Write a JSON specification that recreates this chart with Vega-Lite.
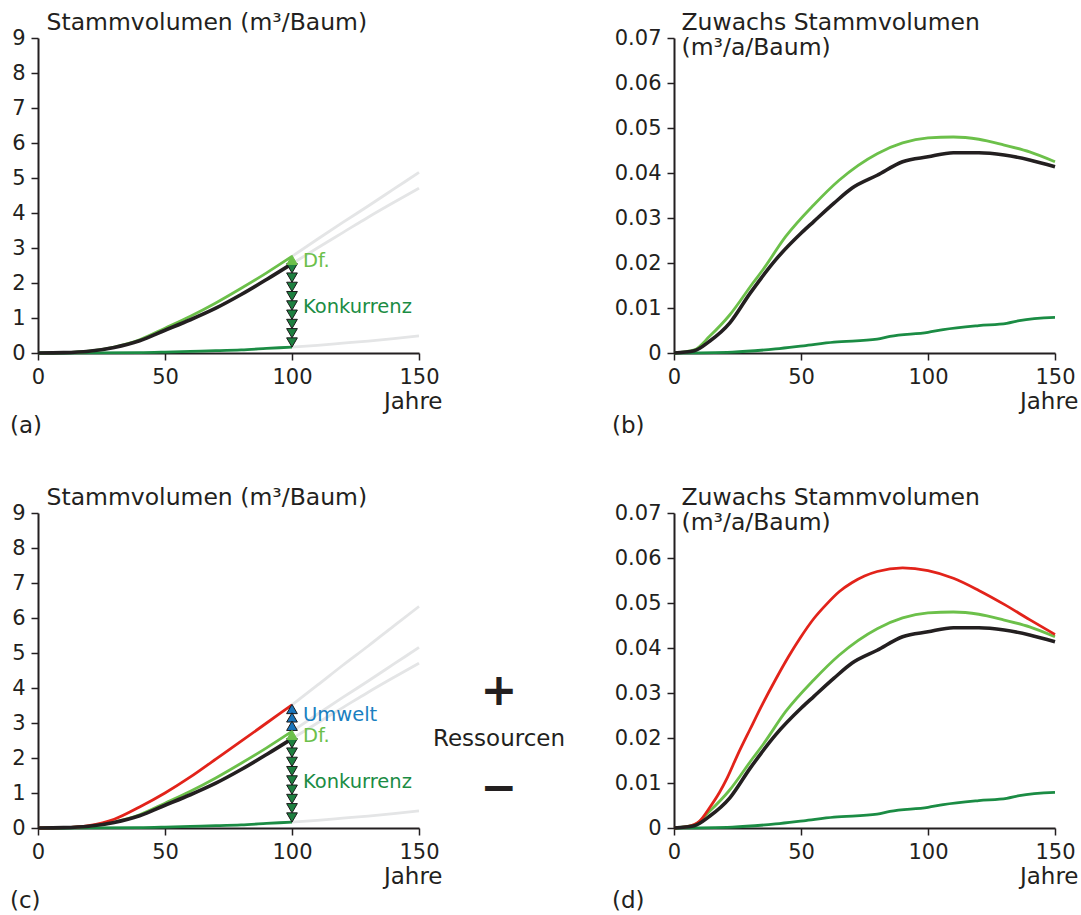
{
  "$schema": "https://vega.github.io/schema/vega-lite/v6.json",
  "autosize": {"type": "pad"},
  "padding": {"left": 10, "top": 10, "right": 0, "bottom": 0},
  "background": "white",
  "columns": 2,
  "spacing": {"row": 160, "column": 255},
  "bounds": "flush",
  "config": {
    "view": {"stroke": null},
    "font": "DejaVu Sans",
    "line": {"interpolate": "monotone"},
    "axis": {
      "grid": false,
      "domainColor": "#231f20",
      "domainWidth": 2,
      "tickColor": "#231f20",
      "tickWidth": 1.5,
      "tickSize": 7,
      "labelFont": "DejaVu Sans",
      "labelFontSize": 21,
      "labelColor": "#231f20",
      "labelPadding": 6,
      "labelFlush": false,
      "labelOverlap": false,
      "titleFont": "DejaVu Sans",
      "titleFontWeight": "normal",
      "titleColor": "#231f20"
    },
    "title": {"font": "DejaVu Sans", "fontSize": 23, "fontWeight": "normal", "color": "#231f20"}
  },
  "datasets": {
    "vol": [
      {"s": "black", "x": 0, "y": 0}, {"s": "black", "x": 10, "y": 0.01}, {"s": "black", "x": 20, "y": 0.05}, {"s": "black", "x": 30, "y": 0.16}, {"s": "black", "x": 40, "y": 0.35}, {"s": "black", "x": 50, "y": 0.65}, {"s": "black", "x": 60, "y": 0.95}, {"s": "black", "x": 70, "y": 1.28}, {"s": "black", "x": 80, "y": 1.67}, {"s": "black", "x": 90, "y": 2.1}, {"s": "black", "x": 100, "y": 2.55},
      {"s": "df", "x": 0, "y": 0}, {"s": "df", "x": 10, "y": 0.01}, {"s": "df", "x": 20, "y": 0.05}, {"s": "df", "x": 30, "y": 0.17}, {"s": "df", "x": 40, "y": 0.38}, {"s": "df", "x": 50, "y": 0.71}, {"s": "df", "x": 60, "y": 1.05}, {"s": "df", "x": 70, "y": 1.43}, {"s": "df", "x": 80, "y": 1.85}, {"s": "df", "x": 90, "y": 2.29}, {"s": "df", "x": 100, "y": 2.76},
      {"s": "konk", "x": 0, "y": 0}, {"s": "konk", "x": 20, "y": 0.002}, {"s": "konk", "x": 40, "y": 0.01}, {"s": "konk", "x": 50, "y": 0.025}, {"s": "konk", "x": 60, "y": 0.045}, {"s": "konk", "x": 70, "y": 0.065}, {"s": "konk", "x": 80, "y": 0.09}, {"s": "konk", "x": 90, "y": 0.13}, {"s": "konk", "x": 100, "y": 0.17},
      {"s": "red", "x": 0, "y": 0}, {"s": "red", "x": 10, "y": 0.01}, {"s": "red", "x": 20, "y": 0.07}, {"s": "red", "x": 30, "y": 0.25}, {"s": "red", "x": 40, "y": 0.6}, {"s": "red", "x": 50, "y": 1.0}, {"s": "red", "x": 60, "y": 1.46}, {"s": "red", "x": 70, "y": 1.97}, {"s": "red", "x": 80, "y": 2.48}, {"s": "red", "x": 90, "y": 3.0}, {"s": "red", "x": 100, "y": 3.52},
      {"s": "g1", "x": 100, "y": 2.76}, {"s": "g1", "x": 110, "y": 3.25}, {"s": "g1", "x": 120, "y": 3.73}, {"s": "g1", "x": 130, "y": 4.2}, {"s": "g1", "x": 140, "y": 4.68}, {"s": "g1", "x": 150, "y": 5.16},
      {"s": "g2", "x": 100, "y": 2.55}, {"s": "g2", "x": 110, "y": 3.0}, {"s": "g2", "x": 120, "y": 3.44}, {"s": "g2", "x": 130, "y": 3.88}, {"s": "g2", "x": 140, "y": 4.3}, {"s": "g2", "x": 150, "y": 4.71},
      {"s": "g3", "x": 100, "y": 0.17}, {"s": "g3", "x": 110, "y": 0.22}, {"s": "g3", "x": 120, "y": 0.28}, {"s": "g3", "x": 130, "y": 0.34}, {"s": "g3", "x": 140, "y": 0.41}, {"s": "g3", "x": 150, "y": 0.49},
      {"s": "g4", "x": 100, "y": 3.52}, {"s": "g4", "x": 110, "y": 4.08}, {"s": "g4", "x": 120, "y": 4.65}, {"s": "g4", "x": 130, "y": 5.2}, {"s": "g4", "x": 140, "y": 5.77}, {"s": "g4", "x": 150, "y": 6.33},
      {"s": "down", "x": 100, "y": 2.42}, {"s": "down", "x": 100, "y": 2.155}, {"s": "down", "x": 100, "y": 1.89}, {"s": "down", "x": 100, "y": 1.625}, {"s": "down", "x": 100, "y": 1.36}, {"s": "down", "x": 100, "y": 1.095}, {"s": "down", "x": 100, "y": 0.83}, {"s": "down", "x": 100, "y": 0.565}, {"s": "down", "x": 100, "y": 0.3},
      {"s": "dfup", "x": 100, "y": 2.66},
      {"s": "up", "x": 100, "y": 3.4}, {"s": "up", "x": 100, "y": 3.16}, {"s": "up", "x": 100, "y": 2.92},
      {"s": "lab", "c": "df", "t": "Df.", "x": 104.3, "y": 2.63},
      {"s": "lab", "c": "konk", "t": "Konkurrenz", "x": 104.3, "y": 1.31},
      {"s": "lab", "c": "umw", "t": "Umwelt", "x": 104.3, "y": 3.23},
      {"s": "res", "t": "Ressourcen", "x": 181.5, "y": 2.54},
      {"s": "pm", "t": "+", "x": 181.5, "y": 3.89},
      {"s": "pm", "t": "−", "x": 181.5, "y": 1.11}
    ],
    "zuw": [
      {"s": "black", "x": 0, "y": 0}, {"s": "black", "x": 8, "y": 0.0005}, {"s": "black", "x": 14, "y": 0.0026}, {"s": "black", "x": 22, "y": 0.0067}, {"s": "black", "x": 30, "y": 0.0133}, {"s": "black", "x": 40, "y": 0.0207}, {"s": "black", "x": 50, "y": 0.0266}, {"s": "black", "x": 55, "y": 0.0292}, {"s": "black", "x": 63, "y": 0.0333}, {"s": "black", "x": 70, "y": 0.0366}, {"s": "black", "x": 80, "y": 0.0395}, {"s": "black", "x": 90, "y": 0.0425}, {"s": "black", "x": 100, "y": 0.0436}, {"s": "black", "x": 110, "y": 0.0445}, {"s": "black", "x": 120, "y": 0.0445}, {"s": "black", "x": 130, "y": 0.044}, {"s": "black", "x": 140, "y": 0.0429}, {"s": "black", "x": 150, "y": 0.0414},
      {"s": "df", "x": 0, "y": 0}, {"s": "df", "x": 8, "y": 0.0007}, {"s": "df", "x": 14, "y": 0.0037}, {"s": "df", "x": 22, "y": 0.0085}, {"s": "df", "x": 31, "y": 0.0155}, {"s": "df", "x": 35, "y": 0.0185}, {"s": "df", "x": 44, "y": 0.0259}, {"s": "df", "x": 55, "y": 0.0329}, {"s": "df", "x": 65, "y": 0.0384}, {"s": "df", "x": 80, "y": 0.0443}, {"s": "df", "x": 90, "y": 0.0467}, {"s": "df", "x": 100, "y": 0.0478}, {"s": "df", "x": 110, "y": 0.048}, {"s": "df", "x": 120, "y": 0.0475}, {"s": "df", "x": 130, "y": 0.0462}, {"s": "df", "x": 140, "y": 0.0447}, {"s": "df", "x": 150, "y": 0.0425},
      {"s": "konk", "x": 0, "y": 0}, {"s": "konk", "x": 23, "y": 0.0002}, {"s": "konk", "x": 40, "y": 0.0009}, {"s": "konk", "x": 51, "y": 0.0016}, {"s": "konk", "x": 63, "y": 0.0024}, {"s": "konk", "x": 80, "y": 0.0031}, {"s": "konk", "x": 85, "y": 0.0037}, {"s": "konk", "x": 100, "y": 0.0046}, {"s": "konk", "x": 106, "y": 0.0052}, {"s": "konk", "x": 120, "y": 0.0061}, {"s": "konk", "x": 131, "y": 0.0066}, {"s": "konk", "x": 136, "y": 0.0072}, {"s": "konk", "x": 150, "y": 0.0079},
      {"s": "red", "x": 0, "y": 0}, {"s": "red", "x": 5, "y": 0.0003}, {"s": "red", "x": 8, "y": 0.0008}, {"s": "red", "x": 10, "y": 0.0015}, {"s": "red", "x": 14, "y": 0.0045}, {"s": "red", "x": 18, "y": 0.008}, {"s": "red", "x": 21, "y": 0.0112}, {"s": "red", "x": 25, "y": 0.0162}, {"s": "red", "x": 30, "y": 0.022}, {"s": "red", "x": 35, "y": 0.0277}, {"s": "red", "x": 40, "y": 0.033}, {"s": "red", "x": 45, "y": 0.038}, {"s": "red", "x": 50, "y": 0.0425}, {"s": "red", "x": 55, "y": 0.0465}, {"s": "red", "x": 60, "y": 0.0497}, {"s": "red", "x": 65, "y": 0.0525}, {"s": "red", "x": 70, "y": 0.0545}, {"s": "red", "x": 75, "y": 0.056}, {"s": "red", "x": 80, "y": 0.057}, {"s": "red", "x": 90, "y": 0.0578}, {"s": "red", "x": 100, "y": 0.0572}, {"s": "red", "x": 110, "y": 0.0555}, {"s": "red", "x": 120, "y": 0.0528}, {"s": "red", "x": 130, "y": 0.0497}, {"s": "red", "x": 140, "y": 0.0463}, {"s": "red", "x": 150, "y": 0.043}
    ]
  },
  "concat": [
    {
      "width": 381, "height": 315,
      "data": {"name": "vol"},
      "title": {"text": "(a)", "orient": "bottom", "anchor": "start", "frame": "group", "dx": -28, "offset": 2},
      "encoding": {
        "x": {"field": "x", "type": "quantitative", "scale": {"domain": [0, 150], "nice": false},
              "axis": {"values": [0, 50, 100, 150], "title": "Jahre", "titleFontSize": 23, "titleX": 404, "titleY": 55, "titleAlign": "right", "titleBaseline": "alphabetic"}},
        "y": {"field": "y", "type": "quantitative", "scale": {"domain": [0, 9], "nice": false},
              "axis": {"values": [0, 1, 2, 3, 4, 5, 6, 7, 8, 9], "title": "Stammvolumen (m³/Baum)", "titleFontSize": 23.5, "titleAngle": 0, "titleX": 8, "titleY": -9, "titleAlign": "left", "titleBaseline": "alphabetic"}}
      },
      "layer": [
        {"transform": [{"filter": "datum.s === 'g1' || datum.s === 'g2' || datum.s === 'g3'"}], "mark": {"type": "line", "color": "#e4e5e6", "strokeWidth": 2.8}, "encoding": {"detail": {"field": "s"}}},
        {"transform": [{"filter": "datum.s === 'konk'"}], "mark": {"type": "line", "color": "#1b8c44", "strokeWidth": 2.8}, "encoding": {}},
        {"transform": [{"filter": "datum.s === 'df'"}], "mark": {"type": "line", "color": "#6cc04a", "strokeWidth": 2.8}, "encoding": {}},
        {"transform": [{"filter": "datum.s === 'black'"}], "mark": {"type": "line", "color": "#231f20", "strokeWidth": 3.6}, "encoding": {}},
        {"transform": [{"filter": "datum.s === 'down'"}], "mark": {"type": "point", "shape": "triangle-down", "filled": true, "fill": "#1e8040", "stroke": "#1a1a1a", "strokeWidth": 1, "size": 115, "opacity": 1}},
        {"transform": [{"filter": "datum.s === 'dfup'"}], "mark": {"type": "point", "shape": "triangle-up", "filled": true, "fill": "#6cc04a", "stroke": "#6cc04a", "strokeWidth": 1, "size": 110, "opacity": 1}},
        {"transform": [{"filter": "datum.s === 'lab' && datum.c !== 'umw'"}], "mark": {"type": "text", "align": "left", "baseline": "middle", "fontSize": 19.5},
         "encoding": {"text": {"field": "t"}, "color": {"field": "c", "type": "nominal", "scale": {"domain": ["df", "konk", "umw"], "range": ["#6cc04a", "#1b8c44", "#1a7fc1"]}, "legend": null}}}
      ]
    },
    {
      "width": 381, "height": 315,
      "data": {"name": "zuw"},
      "title": {"text": "(b)", "orient": "bottom", "anchor": "start", "frame": "group", "dx": -62, "offset": 2},
      "encoding": {
        "x": {"field": "x", "type": "quantitative", "scale": {"domain": [0, 150], "nice": false},
              "axis": {"values": [0, 50, 100, 150], "title": "Jahre", "titleFontSize": 23, "titleX": 404, "titleY": 55, "titleAlign": "right", "titleBaseline": "alphabetic"}},
        "y": {"field": "y", "type": "quantitative", "scale": {"domain": [0, 0.07], "nice": false},
              "axis": {"values": [0, 0.01, 0.02, 0.03, 0.04, 0.05, 0.06, 0.07], "format": "~g", "title": ["Zuwachs Stammvolumen", "(m³/a/Baum)"], "titleFontSize": 23.5, "titleLineHeight": 25, "titleAngle": 0, "titleX": 7, "titleY": -9, "titleAlign": "left", "titleBaseline": "alphabetic"}}
      },
      "layer": [
        {"transform": [{"filter": "datum.s === 'konk'"}], "mark": {"type": "line", "color": "#1b8c44", "strokeWidth": 2.8}, "encoding": {}},
        {"transform": [{"filter": "datum.s === 'df'"}], "mark": {"type": "line", "color": "#6cc04a", "strokeWidth": 2.8}, "encoding": {}},
        {"transform": [{"filter": "datum.s === 'black'"}], "mark": {"type": "line", "color": "#231f20", "strokeWidth": 3.6}, "encoding": {}}
      ]
    },
    {
      "width": 381, "height": 315,
      "data": {"name": "vol"},
      "title": {"text": "(c)", "orient": "bottom", "anchor": "start", "frame": "group", "dx": -28, "offset": 2},
      "encoding": {
        "x": {"field": "x", "type": "quantitative", "scale": {"domain": [0, 150], "nice": false},
              "axis": {"values": [0, 50, 100, 150], "title": "Jahre", "titleFontSize": 23, "titleX": 404, "titleY": 55, "titleAlign": "right", "titleBaseline": "alphabetic"}},
        "y": {"field": "y", "type": "quantitative", "scale": {"domain": [0, 9], "nice": false},
              "axis": {"values": [0, 1, 2, 3, 4, 5, 6, 7, 8, 9], "title": "Stammvolumen (m³/Baum)", "titleFontSize": 23.5, "titleAngle": 0, "titleX": 8, "titleY": -9, "titleAlign": "left", "titleBaseline": "alphabetic"}}
      },
      "layer": [
        {"transform": [{"filter": "datum.s === 'g1' || datum.s === 'g2' || datum.s === 'g3' || datum.s === 'g4'"}], "mark": {"type": "line", "color": "#e4e5e6", "strokeWidth": 2.8}, "encoding": {"detail": {"field": "s"}}},
        {"transform": [{"filter": "datum.s === 'konk'"}], "mark": {"type": "line", "color": "#1b8c44", "strokeWidth": 2.8}, "encoding": {}},
        {"transform": [{"filter": "datum.s === 'df'"}], "mark": {"type": "line", "color": "#6cc04a", "strokeWidth": 2.8}, "encoding": {}},
        {"transform": [{"filter": "datum.s === 'red'"}], "mark": {"type": "line", "color": "#e2231a", "strokeWidth": 2.8}, "encoding": {}},
        {"transform": [{"filter": "datum.s === 'black'"}], "mark": {"type": "line", "color": "#231f20", "strokeWidth": 3.6}, "encoding": {}},
        {"transform": [{"filter": "datum.s === 'down'"}], "mark": {"type": "point", "shape": "triangle-down", "filled": true, "fill": "#1e8040", "stroke": "#1a1a1a", "strokeWidth": 1, "size": 115, "opacity": 1}},
        {"transform": [{"filter": "datum.s === 'up'"}], "mark": {"type": "point", "shape": "triangle-up", "filled": true, "fill": "#1a75bb", "stroke": "#1a1a1a", "strokeWidth": 1, "size": 115, "opacity": 1}},
        {"transform": [{"filter": "datum.s === 'dfup'"}], "mark": {"type": "point", "shape": "triangle-up", "filled": true, "fill": "#6cc04a", "stroke": "#6cc04a", "strokeWidth": 1, "size": 110, "opacity": 1}},
        {"transform": [{"filter": "datum.s === 'lab'"}], "mark": {"type": "text", "align": "left", "baseline": "middle", "fontSize": 19.5},
         "encoding": {"text": {"field": "t"}, "color": {"field": "c", "type": "nominal", "scale": {"domain": ["df", "konk", "umw"], "range": ["#6cc04a", "#1b8c44", "#1a7fc1"]}, "legend": null}}},
        {"transform": [{"filter": "datum.s === 'res'"}], "mark": {"type": "text", "align": "center", "baseline": "middle", "fontSize": 23, "color": "#231f20"}, "encoding": {"text": {"field": "t"}}},
        {"transform": [{"filter": "datum.s === 'pm'"}], "mark": {"type": "text", "align": "center", "baseline": "middle", "fontSize": 44, "fontWeight": "bold", "color": "#231f20"}, "encoding": {"text": {"field": "t"}}}
      ]
    },
    {
      "width": 381, "height": 315,
      "data": {"name": "zuw"},
      "title": {"text": "(d)", "orient": "bottom", "anchor": "start", "frame": "group", "dx": -62, "offset": 2},
      "encoding": {
        "x": {"field": "x", "type": "quantitative", "scale": {"domain": [0, 150], "nice": false},
              "axis": {"values": [0, 50, 100, 150], "title": "Jahre", "titleFontSize": 23, "titleX": 404, "titleY": 55, "titleAlign": "right", "titleBaseline": "alphabetic"}},
        "y": {"field": "y", "type": "quantitative", "scale": {"domain": [0, 0.07], "nice": false},
              "axis": {"values": [0, 0.01, 0.02, 0.03, 0.04, 0.05, 0.06, 0.07], "format": "~g", "title": ["Zuwachs Stammvolumen", "(m³/a/Baum)"], "titleFontSize": 23.5, "titleLineHeight": 25, "titleAngle": 0, "titleX": 7, "titleY": -9, "titleAlign": "left", "titleBaseline": "alphabetic"}}
      },
      "layer": [
        {"transform": [{"filter": "datum.s === 'konk'"}], "mark": {"type": "line", "color": "#1b8c44", "strokeWidth": 2.8}, "encoding": {}},
        {"transform": [{"filter": "datum.s === 'df'"}], "mark": {"type": "line", "color": "#6cc04a", "strokeWidth": 2.8}, "encoding": {}},
        {"transform": [{"filter": "datum.s === 'red'"}], "mark": {"type": "line", "color": "#e2231a", "strokeWidth": 2.8}, "encoding": {}},
        {"transform": [{"filter": "datum.s === 'black'"}], "mark": {"type": "line", "color": "#231f20", "strokeWidth": 3.6}, "encoding": {}}
      ]
    }
  ]
}
